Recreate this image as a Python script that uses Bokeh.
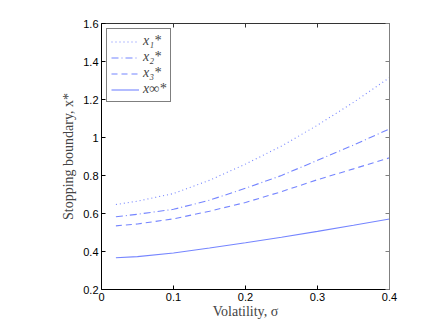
from bokeh.plotting import figure
from bokeh.models import (LinearAxis, FixedTicker, CustomJSTickFormatter, Range1d,
                          Legend, LegendItem)
from bokeh.embed import file_html
from bokeh.resources import INLINE

# Data
sigma = [0.02, 0.05, 0.10, 0.15, 0.20, 0.25, 0.30, 0.35, 0.40]
x1 = [0.647, 0.665, 0.705, 0.775, 0.860, 0.955, 1.065, 1.185, 1.315]
x2 = [0.583, 0.596, 0.622, 0.670, 0.733, 0.800, 0.880, 0.960, 1.045]
x3 = [0.535, 0.545, 0.572, 0.612, 0.658, 0.715, 0.778, 0.835, 0.893]
xinf = [0.367, 0.373, 0.392, 0.418, 0.446, 0.475, 0.506, 0.538, 0.571]
series_labels = ["x\u2081*", "x\u2082*", "x\u2083*", "x\u221e*"]
x_ticks = [0, 0.1, 0.2, 0.3, 0.4]
y_ticks = [0.2, 0.4, 0.6, 0.8, 1.0, 1.2, 1.4, 1.6]

p = figure(width=421, height=321, output_backend="svg", toolbar_location=None,
           x_range=Range1d(0, 0.4), y_range=Range1d(0.2, 1.6),
           min_border_left=101, min_border_right=32, min_border_top=23,
           min_border_bottom=27)
p.grid.visible = False
p.outline_line_color = None
p.background_fill_color = "white"
p.border_fill_color = "white"

fmt = CustomJSTickFormatter(code="return tick.toFixed(1).replace(/\\.0$/, '');")

def style_axis(ax, ticks, show_labels=True, color="black"):
    ax.ticker = FixedTicker(ticks=ticks)
    ax.formatter = fmt
    ax.major_tick_in = 4
    ax.major_tick_out = 0
    ax.minor_tick_in = 0
    ax.minor_tick_out = 0
    ax.axis_line_color = color
    ax.major_tick_line_color = color
    ax.major_label_text_font = "Liberation Sans"
    ax.major_label_text_font_size = "11px"
    ax.major_label_text_color = "black" if show_labels else None
    ax.major_label_standoff = 3

style_axis(p.xaxis[0], x_ticks)
style_axis(p.yaxis[0], y_ticks)
p.xaxis[0].axis_label = "Volatility, \u03c3"
p.yaxis[0].axis_label = "Stopping boundary, x*"
for ax in (p.xaxis[0], p.yaxis[0]):
    ax.axis_label_text_font = "Liberation Serif"
    ax.axis_label_text_font_style = "normal"
    ax.axis_label_text_font_size = "14px"
    ax.axis_label_standoff = 4
p.xaxis[0].axis_label_standoff = 0

top = LinearAxis()
style_axis(top, x_ticks, show_labels=False, color="#333333")
p.add_layout(top, "above")
right = LinearAxis()
style_axis(right, y_ticks, show_labels=False, color="#808080")
p.add_layout(right, "right")
for ax in (top, right):
    ax.major_label_text_font_size = "0px"
    ax.major_label_standoff = 0

color = "#7585ff"
r1 = p.line(sigma, x1, line_color=color, line_width=1.1, line_dash="1 3")
r2 = p.line(sigma, x2, line_color=color, line_width=1.1, line_dash="7 3 1 3")
r3 = p.line(sigma, x3, line_color=color, line_width=1.1, line_dash="6 4")
r4 = p.line(sigma, xinf, line_color=color, line_width=1.1)

legend = Legend(items=[LegendItem(label=l, renderers=[r])
                       for l, r in zip(series_labels, [r1, r2, r3, r4])],
                location="top_left")
legend.border_line_color = "black"
legend.border_line_width = 1
legend.label_text_font = "Liberation Serif"
legend.label_text_font_style = "italic"
legend.label_text_font_size = "14px"
legend.glyph_width = 28
legend.glyph_height = 15
legend.label_height = 15
legend.label_standoff = 4
legend.spacing = 0
legend.padding = 4
legend.margin = 5
p.add_layout(legend, "center")

open("out.html", "w").write(file_html(p, INLINE))
